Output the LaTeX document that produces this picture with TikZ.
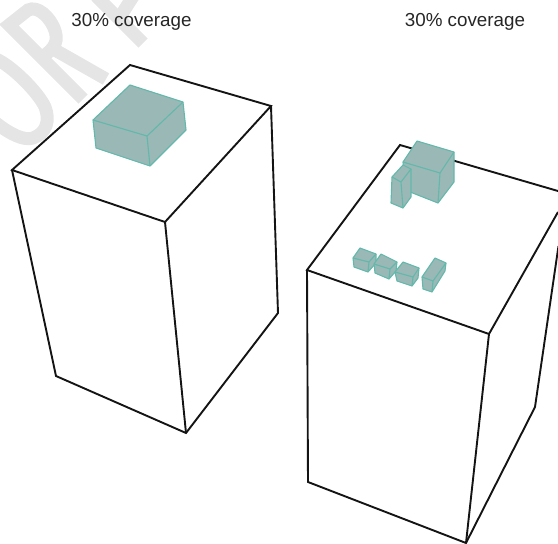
\documentclass[tikz,border=0pt]{standalone}
\usepackage{fontspec}
\setmainfont{Liberation Sans}
\definecolor{tealgray}{HTML}{9AB8B5}
\definecolor{tealedge}{HTML}{62B8AB}
\tikzset{
  wm/.style={draw=black!10,line width=13pt,line cap=butt,line join=miter},
  blk/.style={draw=black!92,line width=1.9pt,line join=miter},
  tealf/.style={draw=tealedge,line width=1.1pt,line join=round},
  lab/.style={font=\fontsize{18.8}{20}\selectfont,text=black!85,inner sep=0pt}
}
% #1 top back, #2 top right, #3 top front, #4 top left, #5 bottom left, #6 bottom front, #7 bottom right
\newcommand{\tealbox}[7]{%
  \fill[tealgray] #1 -- #2 -- #7 -- #6 -- #5 -- #4 -- cycle;
  \draw[tealf] #1 -- #2 -- #7 -- #6 -- #5 -- #4 -- cycle;
  \draw[tealf] #4 -- #3 -- #2 #3 -- #6;
}
\begin{document}
\begin{tikzpicture}[x=1pt,y=-1pt]
\useasboundingbox (0,0) rectangle (558,544);
% watermark
\draw[wm] (83,99) -- (9,25) -- (28,10) .. controls (38,5) and (50,18) .. (54,28) .. controls (59,40) and (56,48) .. (42,57);
\draw[wm] (55,50) -- (106,79);
\draw[wm] (-4,59) .. controls (12,66) and (38,92) .. (45,107) .. controls (50,120) and (47,133) .. (33,138) .. controls (24,141) and (10,134) .. (-4,123);
\draw[wm] (143,43) -- (96,-4);
\draw[wm] (118,20) -- (134,-5);
% left block
\coordinate (la) at (130,65); \coordinate (lb) at (271,106); \coordinate (lc) at (165,222); \coordinate (ld) at (12,170);
\coordinate (le) at (56,376); \coordinate (lf) at (186,433); \coordinate (lg) at (278,313);
\draw[blk] (la) -- (lb) -- (lc) -- (ld) -- cycle;
\draw[blk] (ld) -- (le) -- (lf) -- (lg) -- (lb);
\draw[blk] (lc) -- (lf);
% right block
\coordinate (ra) at (400,145); \coordinate (rb) at (558,191); \coordinate (rb2) at (558,212); \coordinate (rb3) at (558.5,246);
\coordinate (rc) at (489,334); \coordinate (rd) at (307,270);
\coordinate (re) at (308,482); \coordinate (rf) at (466,543); \coordinate (rg) at (535,407);
\draw[blk] (rb) -- (ra) -- (rd) -- (rc) -- (rb2);
\draw[blk] (rd) -- (re) -- (rf) -- (rg) -- (rb3);
\draw[blk] (rc) -- (rf);
% teal boxes
\tealbox{(130,85)}{(183,102)}{(147,136)}{(93,120)}{(96,148)}{(150,166)}{(186,130)}
\tealbox{(417,141)}{(454,152)}{(440,173)}{(403,162)}{(405,190)}{(438,203)}{(454,182)}
\tealbox{(403,165)}{(411,169)}{(401,182)}{(392,177)}{(391,203)}{(403,208)}{(411,197)}
\tealbox{(360,248)}{(376,254)}{(369,262)}{(353,258)}{(354,267)}{(368,272)}{(376,263)}
\tealbox{(381,254)}{(397,262)}{(390,269)}{(374,264)}{(375,273)}{(389,279)}{(396,271)}
\tealbox{(403,262)}{(419,268)}{(413,277)}{(395,272)}{(397,281)}{(412,286)}{(418,278)}
\tealbox{(435,258)}{(446,263)}{(433,281)}{(422,277)}{(423,289)}{(432,292)}{(445,271)}
% labels
\node[lab] (t1) at (131.5,22) {30\% coverage};
\node[lab] (t2) at (465,22) {30\% coverage};
\end{tikzpicture}
\end{document}
